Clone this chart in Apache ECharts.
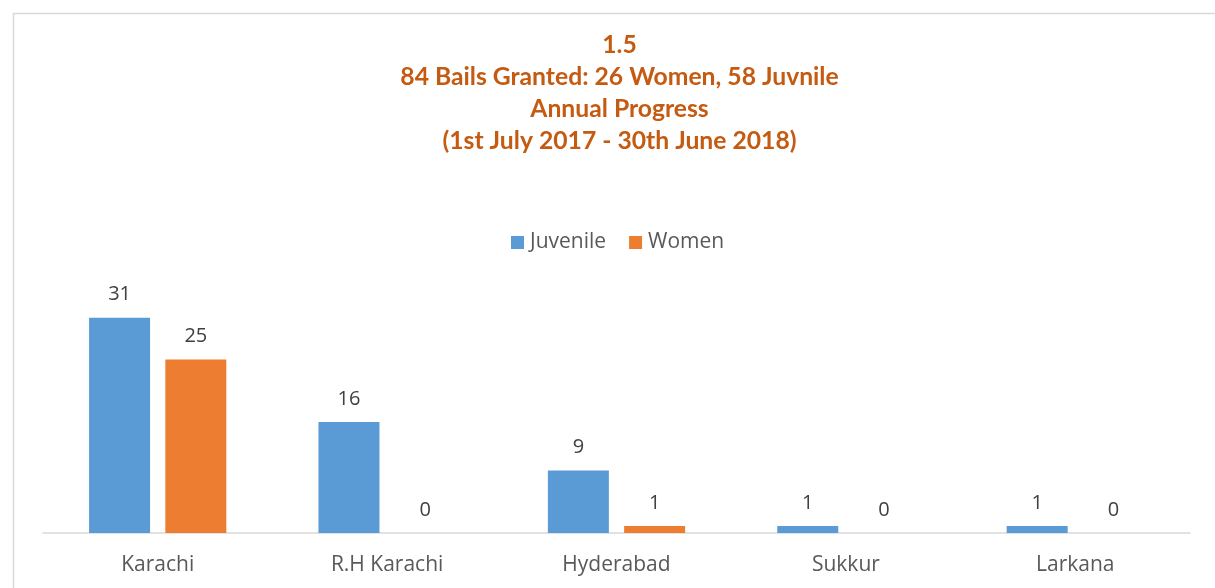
<!DOCTYPE html>
<html><head><meta charset="utf-8">
<script src="https://cdn.jsdelivr.net/npm/echarts@6/dist/echarts.min.js"></script>
<style>html,body{margin:0;padding:0;background:#fff}#c{width:1215px;height:588px}</style>
</head><body><div id="c"></div>
<script>
const categories = ['Karachi', 'R.H Karachi', 'Hyderabad', 'Sukkur', 'Larkana'];
const juvenile = [31, 16, 9, 1, 1];
const women = [25, 0, 1, 0, 0];
const titleLines = ['1.5', '84 Bails Granted: 26 Women, 58 Juvnile', 'Annual Progress', '(1st July 2017 - 30th June 2018)'];
const seriesNames = ['Juvenile', 'Women'];

const chart = echarts.init(document.getElementById('c'));
const labelStyle = { show: true, position: 'top', distance: 13, color: '#404040', fontSize: 20, fontFamily: 'Open Sans' };
chart.setOption({
  animation: false,
  graphic: [{ type: 'rect', shape: { x: 13.5, y: 13.5, width: 1250, height: 700 }, style: { fill: 'none', stroke: '#D9D9D9', lineWidth: 1.5 }, silent: true }],
  title: {
    text: titleLines.join('\n'), left: 614.5, top: 24, textAlign: 'center',
    textStyle: { color: '#C55A11', fontSize: 24.7, fontWeight: 'bold', fontFamily: 'Lato', lineHeight: 32 }
  },
  legend: {
    data: seriesNames, top: 227, left: 506, itemWidth: 13, itemHeight: 13, itemGap: 23,
    icon: 'rect',
    textStyle: { color: '#595959', fontSize: 21, fontFamily: 'Open Sans', padding: [0, 0, 0, 1] }
  },
  grid: { left: 43, right: 25, top: 290, bottom: 55, containLabel: false },
  xAxis: {
    type: 'category', data: categories,
    axisLine: { lineStyle: { color: '#D9D9D9', width: 1.5 } },
    axisTick: { show: false },
    axisLabel: { color: '#595959', fontSize: 21, fontFamily: 'Open Sans', margin: 22 }
  },
  yAxis: { type: 'value', min: 0, max: 35, show: false, splitLine: { show: false } },
  series: [
    { name: seriesNames[0], type: 'bar', data: juvenile, barWidth: 61, barGap: '25%', itemStyle: { color: '#5B9BD5' }, label: labelStyle },
    { name: seriesNames[1], type: 'bar', data: women, barWidth: 61, itemStyle: { color: '#ED7D31' }, label: labelStyle }
  ]
});
</script></body></html>
